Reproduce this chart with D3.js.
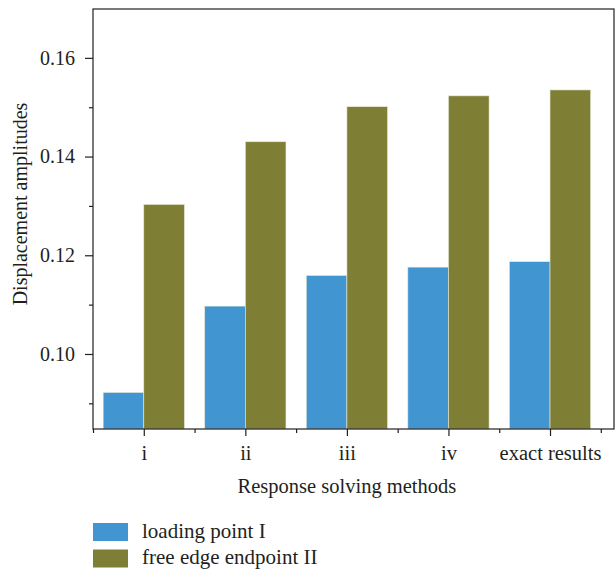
<!DOCTYPE html>
<html>
<head>
<meta charset="utf-8">
<script src="https://cdn.jsdelivr.net/npm/d3@7"></script>
<style>
  body { margin: 0; background: #fff; }
  text { font-family: "Liberation Serif", "DejaVu Serif", serif; fill: #231f20; }
</style>
</head>
<body>
<div id="chart"></div>
<script>
// data
var methods = ["i", "ii", "iii", "iv", "exact results"];
var loadingPoint = [0.0922, 0.1097, 0.1159, 0.1176, 0.1187];
var freeEdge = [0.1303, 0.1430, 0.1501, 0.1523, 0.1535];
var seriesNames = ["loading point I", "free edge endpoint II"];
var seriesColors = ["#4196d2", "#7e7f35"];
var yTicks = [0.10, 0.12, 0.14, 0.16];
var yMinorTicks = [0.09, 0.11, 0.13, 0.15];

var width = 616;
var height = 573;
var margin = { left: 93, right: 2, top: 9, bottom: 144 };

var svg = d3.select("#chart")
  .append("svg")
    .attr("width", width)
    .attr("height", height);

// x is a linear scale over category index so the frame can run past the last group
var x = d3.scaleLinear()
  .domain([0.5, 5.63])
  .range([margin.left, width - margin.right]);

var y = d3.scaleLinear()
  .domain([0.0848, 0.1699])
  .range([height - margin.bottom, margin.top]);

var barW = x(1.4) - x(1);

// bars
var series = [loadingPoint, freeEdge];
series.forEach(function (vals, s) {
  svg.append("g")
    .selectAll("rect")
    .data(vals)
    .enter()
    .append("rect")
      .attr("x", function (d, i) { return s === 0 ? x(i + 1) - barW : x(i + 1); })
      .attr("y", function (d) { return y(d); })
      .attr("width", barW)
      .attr("height", function (d) { return y.range()[0] - y(d); })
      .attr("fill", seriesColors[s])
      .attr("stroke", "#e8e8d8")
      .attr("stroke-width", 0.6);
});

// frame
svg.append("rect")
  .attr("x", x.range()[0])
  .attr("y", y.range()[1])
  .attr("width", x.range()[1] - x.range()[0])
  .attr("height", y.range()[0] - y.range()[1])
  .attr("fill", "none")
  .attr("stroke", "#231f20")
  .attr("stroke-width", 1.2);

// y axis
var yAxis = svg.append("g")
  .attr("transform", "translate(" + margin.left + ",0)")
  .call(d3.axisLeft(y).tickValues(yTicks).tickSize(8).tickPadding(10)
    .tickFormat(d3.format(".2f")));
yAxis.select(".domain").remove();
yAxis.selectAll("line").attr("stroke", "#231f20").attr("stroke-width", 1.2);
yAxis.selectAll("text").style("font-size", "20px").attr("fill", "#231f20")
  .style("font-family", "Liberation Serif, serif");

var yMinor = svg.append("g")
  .attr("transform", "translate(" + margin.left + ",0)")
  .call(d3.axisLeft(y).tickValues(yMinorTicks).tickSize(4).tickFormat(""));
yMinor.select(".domain").remove();
yMinor.selectAll("line").attr("stroke", "#231f20").attr("stroke-width", 1.2);

// x axis
var xAxis = svg.append("g")
  .attr("transform", "translate(0," + y.range()[0] + ")")
  .call(d3.axisBottom(x).tickValues(d3.range(1, methods.length + 1)).tickSize(7).tickPadding(9)
    .tickFormat(function (d) { return methods[d - 1]; }));
xAxis.select(".domain").remove();
xAxis.selectAll("line").attr("stroke", "#231f20").attr("stroke-width", 1.2);
xAxis.selectAll("text").style("font-size", "20.5px").attr("fill", "#231f20")
  .style("font-family", "Liberation Serif, serif");

var xMinor = svg.append("g")
  .attr("transform", "translate(0," + y.range()[0] + ")")
  .call(d3.axisBottom(x).tickValues(d3.range(0.5, methods.length + 1, 1)).tickSize(4).tickFormat(""));
xMinor.select(".domain").remove();
xMinor.selectAll("line").attr("stroke", "#231f20").attr("stroke-width", 1.2);

// axis titles
svg.append("text")
  .attr("x", (x(1) + x(5)) / 2)
  .attr("y", 493)
  .attr("text-anchor", "middle")
  .style("font-size", "20.5px")
  .text("Response solving methods");

svg.append("text")
  .attr("transform", "translate(27,204) rotate(-90)")
  .attr("text-anchor", "middle")
  .style("font-size", "20px")
  .text("Displacement amplitudes");

// legend
var legend = svg.append("g")
  .selectAll("g")
  .data(seriesNames)
  .enter()
  .append("g")
    .attr("transform", function (d, i) { return "translate(93," + (523 + i * 26.5) + ")"; });

legend.append("rect")
  .attr("width", 35)
  .attr("height", 18)
  .attr("fill", function (d, i) { return seriesColors[i]; });

legend.append("text")
  .attr("x", 49)
  .attr("y", 14.5)
  .style("font-size", "21px")
  .text(function (d) { return d; });
</script>
</body>
</html>
